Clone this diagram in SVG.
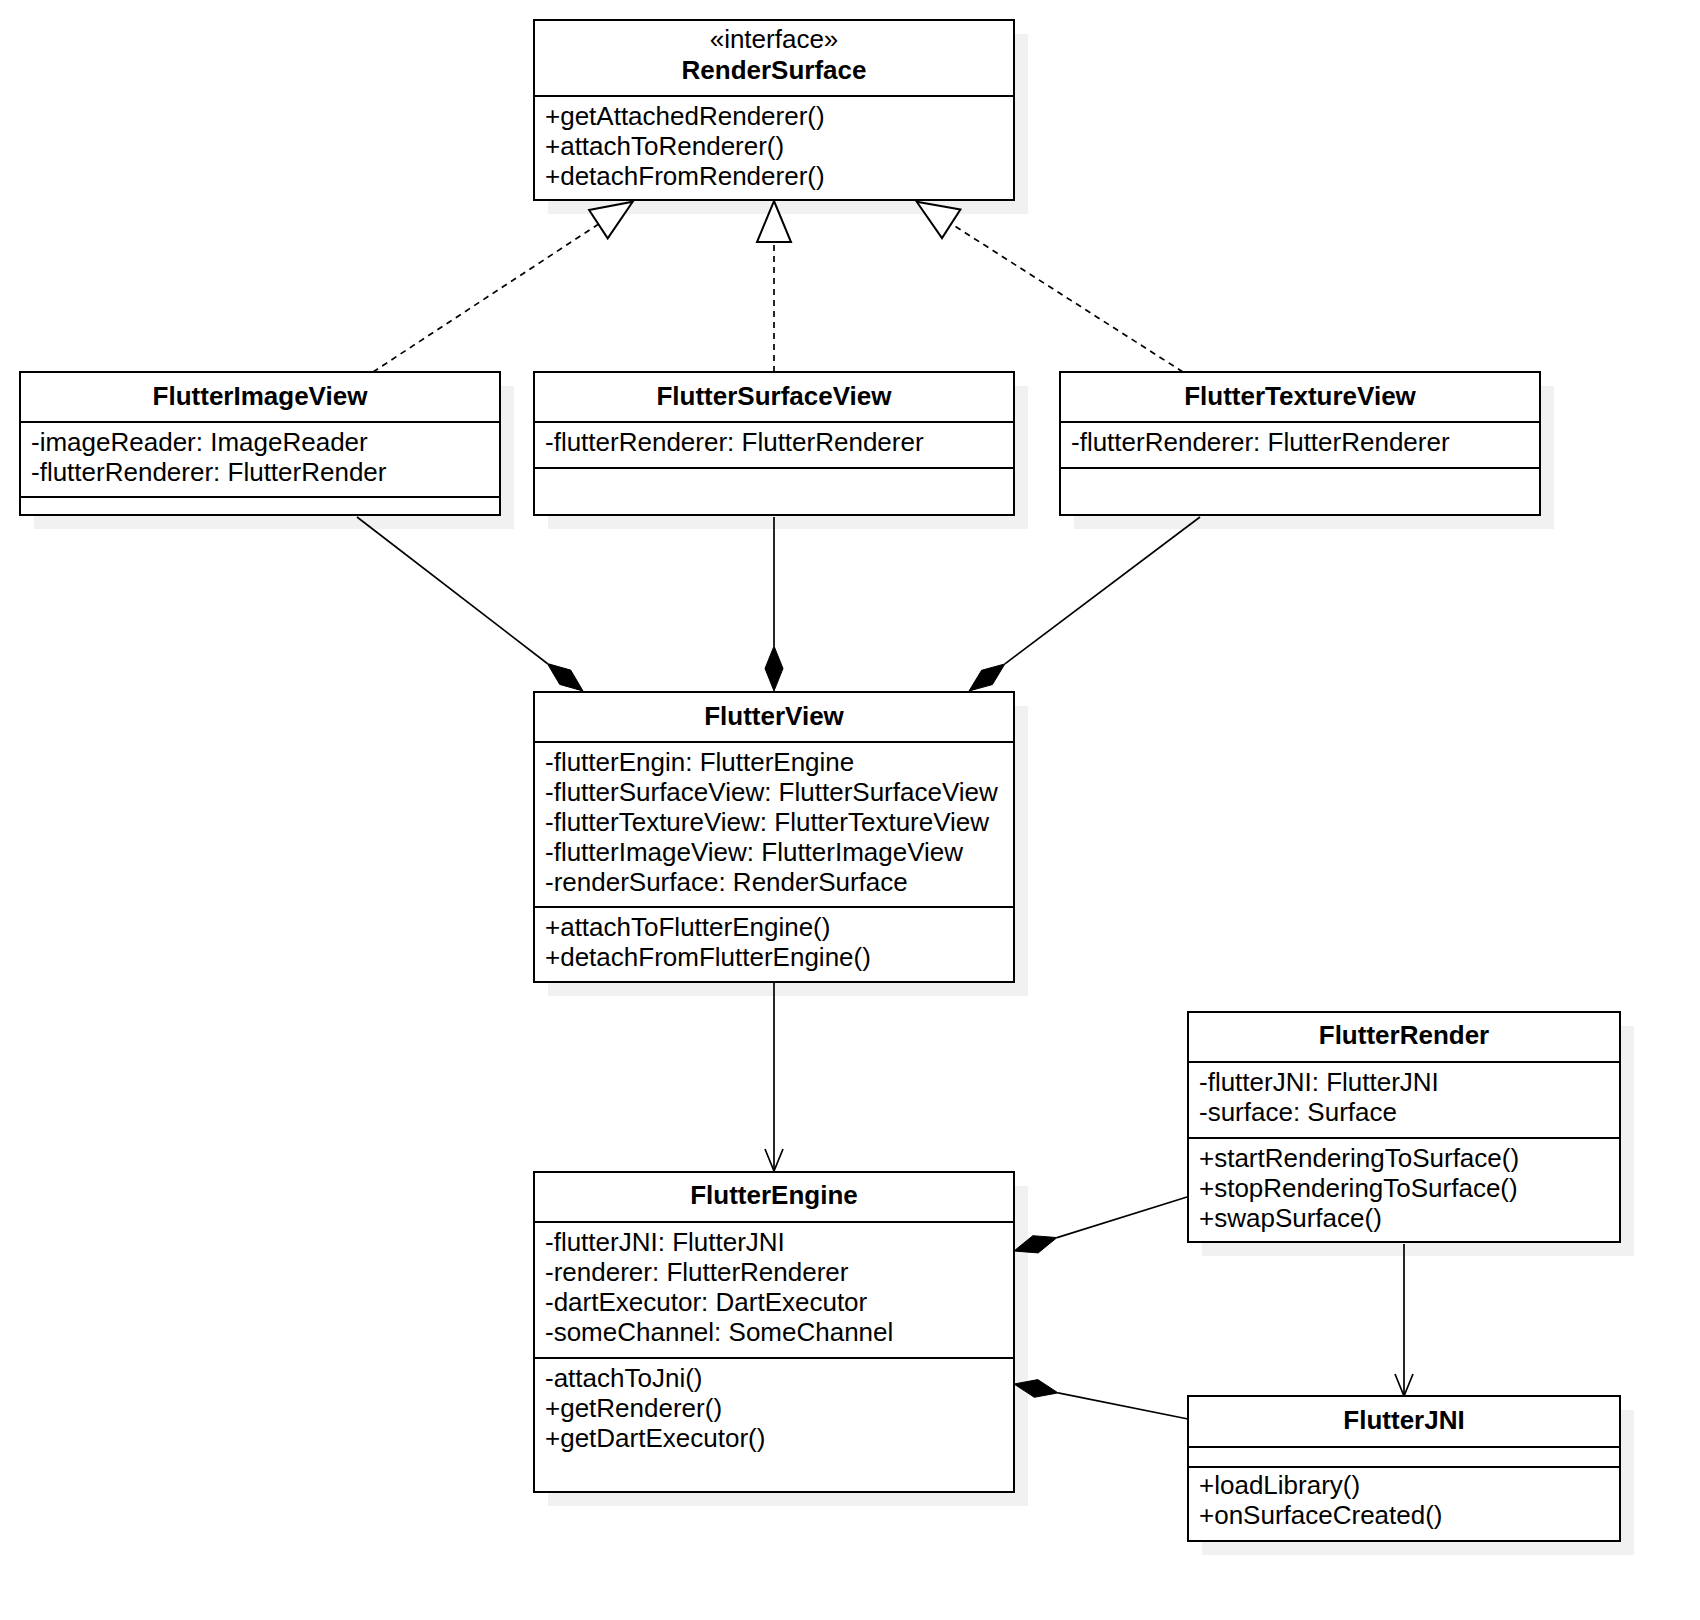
<svg xmlns="http://www.w3.org/2000/svg" width="1700" height="1620" viewBox="0 0 1700 1620">
<style>
.box{fill:#ffffff;stroke:#000000;stroke-width:2}
.shadow{fill:#f1f1f1;stroke:none}
.div{stroke:#000000;stroke-width:2}
.t{font-family:"Liberation Sans",Arial,sans-serif;font-size:26px;fill:#000000}
.b{font-weight:bold;text-anchor:middle}
.c{text-anchor:middle}
.ln{stroke:#000000;stroke-width:1.7;fill:none}
.dash{stroke-dasharray:6 5}
.tri{fill:#ffffff;stroke:#000000;stroke-width:2}
.dia{fill:#000000;stroke:#000000;stroke-width:1}
.open{fill:none;stroke:#000000;stroke-width:1.7}
</style>
<rect width="1700" height="1620" fill="#ffffff"/>
<g id="shadows">
<rect class="shadow" x="548" y="34" width="480" height="180"/>
<rect class="shadow" x="34" y="386" width="480" height="143"/>
<rect class="shadow" x="548" y="386" width="480" height="143"/>
<rect class="shadow" x="1074" y="386" width="480" height="143"/>
<rect class="shadow" x="548" y="706" width="480" height="290"/>
<rect class="shadow" x="548" y="1186" width="480" height="320"/>
<rect class="shadow" x="1202" y="1026" width="432" height="230"/>
<rect class="shadow" x="1202" y="1410" width="432" height="145"/>
</g>
<g id="connectors">
<line class="ln dash" x1="373" y1="372" x2="598.4" y2="224.2"/>
<polygon class="tri" points="632.7,201.7 607.7,238.4 589.1,210"/>
<line class="ln dash" x1="774" y1="372" x2="774" y2="242"/>
<polygon class="tri" points="774,201 791,242 757,242"/>
<line class="ln dash" x1="1183" y1="372" x2="951.2" y2="223.8"/>
<polygon class="tri" points="916.7,201.7 960.4,209.5 942,238.1"/>
<line class="ln" x1="357" y1="517" x2="547.3" y2="663.5"/>
<polygon class="dia" points="583,691 570.7,670.1 547.3,663.5 559.7,684.4"/>
<line class="ln" x1="774" y1="517" x2="774" y2="646"/>
<polygon class="dia" points="774,691 783,668.5 774,646 765,668.5"/>
<line class="ln" x1="1200" y1="517" x2="1004.9" y2="663.9"/>
<polygon class="dia" points="969,691 981.6,670.3 1004.9,663.9 992.4,684.6"/>
<line class="ln" x1="774" y1="982" x2="774" y2="1170"/>
<polyline class="open" points="765,1149 774,1171 783,1149"/>
<line class="ln" x1="1187" y1="1197" x2="1057" y2="1237.6"/>
<polygon class="dia" points="1014,1251 1038.2,1252.9 1057,1237.6 1032.8,1235.7"/>
<line class="ln" x1="1188" y1="1419" x2="1058.1" y2="1392.9"/>
<polygon class="dia" points="1014,1384 1037.8,1379.6 1058.1,1392.9 1034.3,1397.3"/>
<line class="ln" x1="1404" y1="1244" x2="1404" y2="1395"/>
<polyline class="open" points="1395,1374 1404,1396 1413,1374"/>
</g>
<g id="RenderSurface">
<rect class="box" x="534" y="20" width="480" height="180"/>
<line class="div" x1="534" y1="96" x2="1014" y2="96"/>
<text class="t c" x="774" y="48">«interface»</text>
<text class="t b" x="774" y="79">RenderSurface</text>
<text class="t" x="545" y="125">+getAttachedRenderer()</text>
<text class="t" x="545" y="155">+attachToRenderer()</text>
<text class="t" x="545" y="185">+detachFromRenderer()</text>
</g>
<g id="FlutterImageView">
<rect class="box" x="20" y="372" width="480" height="143"/>
<line class="div" x1="20" y1="422" x2="500" y2="422"/>
<line class="div" x1="20" y1="497" x2="500" y2="497"/>
<text class="t b" x="260" y="405">FlutterImageView</text>
<text class="t" x="31" y="451">-imageReader: ImageReader</text>
<text class="t" x="31" y="481">-flutterRenderer: FlutterRender</text>
</g>
<g id="FlutterSurfaceView">
<rect class="box" x="534" y="372" width="480" height="143"/>
<line class="div" x1="534" y1="422" x2="1014" y2="422"/>
<line class="div" x1="534" y1="468" x2="1014" y2="468"/>
<text class="t b" x="774" y="405">FlutterSurfaceView</text>
<text class="t" x="545" y="451">-flutterRenderer: FlutterRenderer</text>
</g>
<g id="FlutterTextureView">
<rect class="box" x="1060" y="372" width="480" height="143"/>
<line class="div" x1="1060" y1="422" x2="1540" y2="422"/>
<line class="div" x1="1060" y1="468" x2="1540" y2="468"/>
<text class="t b" x="1300" y="405">FlutterTextureView</text>
<text class="t" x="1071" y="451">-flutterRenderer: FlutterRenderer</text>
</g>
<g id="FlutterView">
<rect class="box" x="534" y="692" width="480" height="290"/>
<line class="div" x1="534" y1="742" x2="1014" y2="742"/>
<line class="div" x1="534" y1="907" x2="1014" y2="907"/>
<text class="t b" x="774" y="725">FlutterView</text>
<text class="t" x="545" y="771">-flutterEngin: FlutterEngine</text>
<text class="t" x="545" y="801">-flutterSurfaceView: FlutterSurfaceView</text>
<text class="t" x="545" y="831">-flutterTextureView: FlutterTextureView</text>
<text class="t" x="545" y="861">-flutterImageView: FlutterImageView</text>
<text class="t" x="545" y="891">-renderSurface: RenderSurface</text>
<text class="t" x="545" y="936">+attachToFlutterEngine()</text>
<text class="t" x="545" y="966">+detachFromFlutterEngine()</text>
</g>
<g id="FlutterEngine">
<rect class="box" x="534" y="1172" width="480" height="320"/>
<line class="div" x1="534" y1="1222" x2="1014" y2="1222"/>
<line class="div" x1="534" y1="1358" x2="1014" y2="1358"/>
<text class="t b" x="774" y="1204">FlutterEngine</text>
<text class="t" x="545" y="1251">-flutterJNI: FlutterJNI</text>
<text class="t" x="545" y="1281">-renderer: FlutterRenderer</text>
<text class="t" x="545" y="1311">-dartExecutor: DartExecutor</text>
<text class="t" x="545" y="1341">-someChannel: SomeChannel</text>
<text class="t" x="545" y="1387">-attachToJni()</text>
<text class="t" x="545" y="1417">+getRenderer()</text>
<text class="t" x="545" y="1447">+getDartExecutor()</text>
</g>
<g id="FlutterRender">
<rect class="box" x="1188" y="1012" width="432" height="230"/>
<line class="div" x1="1188" y1="1062" x2="1620" y2="1062"/>
<line class="div" x1="1188" y1="1138" x2="1620" y2="1138"/>
<text class="t b" x="1404" y="1044">FlutterRender</text>
<text class="t" x="1199" y="1091">-flutterJNI: FlutterJNI</text>
<text class="t" x="1199" y="1121">-surface: Surface</text>
<text class="t" x="1199" y="1167">+startRenderingToSurface()</text>
<text class="t" x="1199" y="1197">+stopRenderingToSurface()</text>
<text class="t" x="1199" y="1227">+swapSurface()</text>
</g>
<g id="FlutterJNI">
<rect class="box" x="1188" y="1396" width="432" height="145"/>
<line class="div" x1="1188" y1="1447" x2="1620" y2="1447"/>
<line class="div" x1="1188" y1="1467" x2="1620" y2="1467"/>
<text class="t b" x="1404" y="1429">FlutterJNI</text>
<text class="t" x="1199" y="1494">+loadLibrary()</text>
<text class="t" x="1199" y="1524">+onSurfaceCreated()</text>
</g>
</svg>
